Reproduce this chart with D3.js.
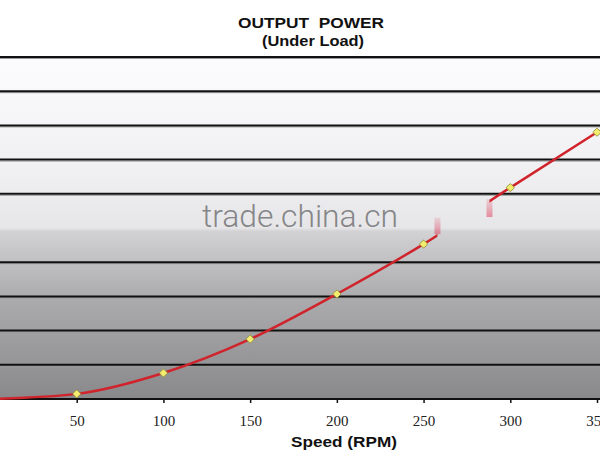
<!DOCTYPE html>
<html>
<head>
<meta charset="utf-8">
<script src="https://cdn.jsdelivr.net/npm/d3@7"></script>
<style>
  body { margin: 0; background: #fff; }
  svg { display: block; }
</style>
</head>
<body>
<div id="chart"></div>
<script>
//size of the picture
const width = 600;
const height = 456;

//speed ticks on the x axis
const speedTicks = [50, 100, 150, 200, 250, 300, 350];

//measured points (speed in rpm, power in grid units)
const speeds = [0, 50, 100, 150, 200, 250, 300, 350];
const power = [0, 0.15, 0.76, 1.75, 3.07, 4.53, 6.18, 7.8];

//horizontal rules, the one at 5 is missing in the original
const gridValues = [1, 2, 3, 4, 6, 7, 8, 9, 10];

//the curve has a hole between these speeds
const gapSpeeds = [258, 288];
//faded red marks next to the hole: speed, from value, to value
const smudges = [
    { speed: 258, from: 4.82, to: 5.3 },
    { speed: 288, from: 5.85, to: 5.32 }
];

const x = d3.scaleLinear().domain([0, 350]).range([-10, 597]);
const y = d3.scaleLinear().domain([0, 10]).range([399, 57]);

const svg = d3.select("#chart")
    .append("svg")
    .attr("width", width)
    .attr("height", height);

const defs = svg.append("defs");

//grey background, white at top going dark at bottom
const bg = defs.append("linearGradient")
    .attr("id", "bg")
    .attr("x1", 0).attr("y1", 0)
    .attr("x2", 0).attr("y2", 1);
[
    [0, "#fcfcfe"], [0.35, "#efeff1"], [0.5, "#e6e6e8"], [0.51, "#d2d2d4"],
    [0.7, "#acacae"], [1, "#89888b"]
].forEach(function (s) {
    bg.append("stop").attr("offset", s[0]).attr("stop-color", s[1]);
});

svg.append("rect")
    .attr("x", 0)
    .attr("y", y(10))
    .attr("width", width)
    .attr("height", y(0) - y(10))
    .attr("fill", "url(#bg)");

//watermark
svg.append("text")
    .attr("x", 300)
    .attr("y", 227)
    .attr("text-anchor", "middle")
    .attr("textLength", 196)
    .attr("lengthAdjust", "spacingAndGlyphs")
    .style("font-family", "Roboto, 'Liberation Sans', sans-serif")
    .style("font-weight", 300)
    .style("font-size", "31px")
    .attr("fill", "#858587")
    .text("trade.china.cn");

//grid rules with a soft shadow under them
svg.selectAll(".shadow")
    .data(gridValues)
    .enter()
    .append("line")
    .attr("x1", 0).attr("x2", width)
    .attr("y1", function (d) { return y(d) + 1.5; })
    .attr("y2", function (d) { return y(d) + 1.5; })
    .attr("stroke", "#9a9a9a")
    .attr("stroke-width", 1);

svg.selectAll(".grid")
    .data(gridValues)
    .enter()
    .append("line")
    .attr("x1", 0).attr("x2", width)
    .attr("y1", function (d) { return y(d); })
    .attr("y2", function (d) { return y(d); })
    .attr("stroke", "#111")
    .attr("stroke-width", 2);

//x axis
const xAxis = svg.append("g")
    .attr("transform", "translate(0," + y(0) + ")")
    .call(d3.axisBottom(x).tickValues(speedTicks).tickSize(4).tickPadding(12));
xAxis.select(".domain").remove();
xAxis.selectAll(".tick line").attr("stroke", "#111").attr("stroke-width", 1.5);
xAxis.selectAll("text")
    .style("font-family", "'Liberation Serif', 'DejaVu Serif', serif")
    .style("font-size", "15px")
    .attr("fill", "#222");

svg.append("line")
    .attr("x1", 0).attr("x2", width)
    .attr("y1", y(0)).attr("y2", y(0))
    .attr("stroke", "#111")
    .attr("stroke-width", 2);

//curve, clipped to leave the hole
const clip = defs.append("clipPath").attr("id", "hole");
clip.append("rect")
    .attr("x", 0).attr("y", 0)
    .attr("width", x(gapSpeeds[0]))
    .attr("height", height);
clip.append("rect")
    .attr("x", x(gapSpeeds[1])).attr("y", 0)
    .attr("width", width - x(gapSpeeds[1]))
    .attr("height", height);

const points = speeds.map(function (s, i) { return { speed: s, value: power[i] }; });

const line = d3.line()
    .x(function (d) { return x(d.speed); })
    .y(function (d) { return y(d.value); })
    .curve(d3.curveMonotoneX);

//faded red marks
const fade = defs.append("linearGradient")
    .attr("id", "fade")
    .attr("x1", 0).attr("y1", 0)
    .attr("x2", 0).attr("y2", 1);
fade.append("stop").attr("offset", 0).attr("stop-color", "#e0506a").attr("stop-opacity", 0.15);
fade.append("stop").attr("offset", 1).attr("stop-color", "#e0506a").attr("stop-opacity", 0.6);

svg.selectAll(".smudge")
    .data(smudges)
    .enter()
    .append("rect")
    .attr("x", function (d) { return x(d.speed) - 3; })
    .attr("y", function (d) { return Math.min(y(d.from), y(d.to)); })
    .attr("width", 6)
    .attr("height", function (d) { return Math.abs(y(d.from) - y(d.to)); })
    .attr("fill", "url(#fade)");

svg.append("path")
    .datum(points)
    .attr("d", line)
    .attr("clip-path", "url(#hole)")
    .attr("fill", "none")
    .attr("stroke", "#d0232b")
    .attr("stroke-width", 2.5);

//yellow diamond markers
svg.selectAll(".marker")
    .data(points.filter(function (d) { return d.speed > 0; }))
    .enter()
    .append("rect")
    .attr("x", -3).attr("y", -3)
    .attr("width", 6).attr("height", 6)
    .attr("rx", 1)
    .attr("transform", function (d) { return "translate(" + x(d.speed) + "," + y(d.value) + ") rotate(45)"; })
    .attr("fill", "#f3ec6e")
    .attr("stroke", "#8c8a3a")
    .attr("stroke-width", 0.8);

//titles
svg.append("text")
    .attr("x", 311)
    .attr("y", 28)
    .attr("text-anchor", "middle")
    .attr("textLength", 146)
    .attr("lengthAdjust", "spacingAndGlyphs")
    .style("white-space", "pre")
    .style("font-family", "'Liberation Sans', Arial, sans-serif")
    .style("font-weight", "bold")
    .style("font-size", "14.5px")
    .attr("fill", "#111")
    .text("OUTPUT  POWER");

svg.append("text")
    .attr("x", 313)
    .attr("y", 46)
    .attr("text-anchor", "middle")
    .attr("textLength", 102)
    .attr("lengthAdjust", "spacingAndGlyphs")
    .style("font-family", "'Liberation Sans', Arial, sans-serif")
    .style("font-weight", "bold")
    .style("font-size", "14.5px")
    .attr("fill", "#111")
    .text("(Under Load)");

svg.append("text")
    .attr("x", 344)
    .attr("y", 447)
    .attr("text-anchor", "middle")
    .attr("textLength", 106)
    .attr("lengthAdjust", "spacingAndGlyphs")
    .style("font-family", "'Liberation Sans', Arial, sans-serif")
    .style("font-weight", "bold")
    .style("font-size", "15px")
    .attr("fill", "#111")
    .text("Speed (RPM)");
</script>
</body>
</html>
